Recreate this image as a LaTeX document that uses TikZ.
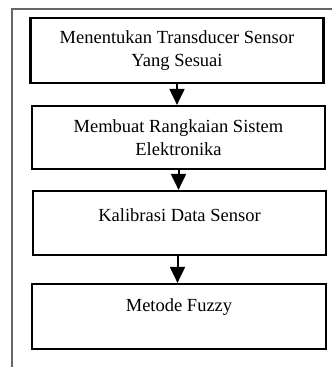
\documentclass[tikz,border=0pt]{standalone}
\usepackage{fontspec}
\setmainfont{Liberation Serif}
\usetikzlibrary{arrows.meta}
\begin{document}
\begin{tikzpicture}[x=1bp,y=-1bp,
  stepbox/.style={draw=black, line width=2.2bp, minimum width=293bp, inner sep=0pt, align=center,
    font=\fontsize{18.5bp}{23bp}\selectfont},
  txt/.style={align=center, inner sep=0pt, font=\fontsize{18.5bp}{23bp}\selectfont},
  arr/.style={line width=2bp, -{Triangle[length=16bp,width=15bp]}},
  frame/.style={draw=black!60, line width=1.4bp}]
\useasboundingbox (0,0) rectangle (332,367);
\coordinate (fbl) at (12,367);
\coordinate (ftl) at (12,9);
\coordinate (ftr) at (333,9);
\draw[frame] (fbl) -- (ftl) -- (ftr);
\node[stepbox, minimum height=65bp] (b1) at (177,50.5) {Menentukan Transducer Sensor\\Yang Sesuai};
\node[stepbox, minimum height=63bp] (b2) at (178.5,137.5) {Membuat Rangkaian Sistem\\Elektronika};
\node[stepbox, minimum height=64bp] (b3) at (179.5,223) {};
\node[txt] at ([yshift=8bp]b3.center) {Kalibrasi Data Sensor};
\node[stepbox, minimum height=65bp, minimum width=294bp] (b4) at (179,316.5) {};
\node[txt] at ([yshift=9.5bp]b4.center) {Metode Fuzzy};
\draw[arr] (b1.south) -- (b1.south |- b2.north);
\draw[arr] (b2.south) -- (b2.south |- b3.north);
\draw[arr] ([xshift=-2bp]b3.south) -- ([xshift=-2bp]b3.south |- b4.north);
\end{tikzpicture}
\end{document}
